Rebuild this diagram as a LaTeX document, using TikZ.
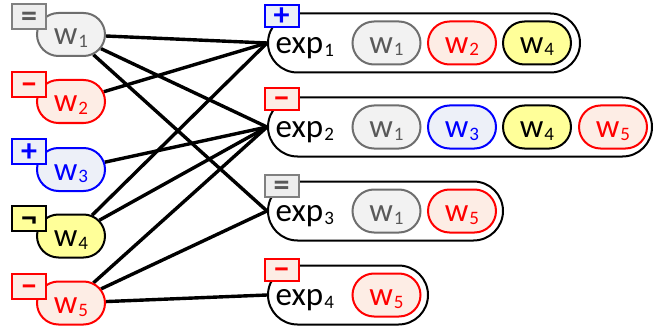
\documentclass[tikz,border=0pt]{standalone}
\usepackage{fontspec}
\setmainfont{Carlito}
\usetikzlibrary{shapes.misc,backgrounds}
\definecolor{gbd}{HTML}{6E6E6E}
\definecolor{gfill}{HTML}{F2F2F2}
\definecolor{gtext}{HTML}{595959}
\definecolor{gboxfill}{HTML}{EEEEEE}
\definecolor{gboxbd}{HTML}{808080}
\definecolor{rbd}{HTML}{FF0000}
\definecolor{rfill}{HTML}{FDEDE5}
\definecolor{bbd}{HTML}{0000FF}
\definecolor{bfill}{HTML}{EDF0F8}
\definecolor{yfill}{HTML}{FFFF99}
\newcommand{\mysub}[1]{\kern1pt\raisebox{-2.5pt}{\fontsize{19}{19}\selectfont #1}}
\begin{document}
\begin{tikzpicture}[x=1pt,y=-1pt,
  wnode/.style={rounded rectangle, line width=2pt, minimum width=68pt, minimum height=43pt,
    inner sep=0pt, text height=23pt, text depth=2pt, font=\fontsize{33}{33}\selectfont},
  wg/.style={wnode, draw=gbd, fill=gfill, text=gtext},
  wr/.style={wnode, draw=rbd, fill=rfill, text=rbd},
  wb/.style={wnode, draw=bbd, fill=bfill, text=bbd},
  wy/.style={wnode, draw=black, fill=yfill, text=black},
  signbox/.style={rectangle, line width=2pt, minimum width=34pt, minimum height=25pt,
    inner sep=0pt, text height=20pt, text depth=0pt, font=\bfseries\fontsize{32}{32}\selectfont},
  esign/.style={minimum height=22pt, text height=19pt},
  sg/.style={signbox, draw=gboxbd, fill=gboxfill, text=gtext},
  sr/.style={signbox, draw=rbd, fill=rfill, text=rbd},
  sb/.style={signbox, draw=bbd, fill=bfill, text=bbd},
  sy/.style={signbox, draw=black, fill=yfill, text=black},
  egroup/.style={rounded rectangle, draw=black, line width=2pt, minimum height=59pt, inner sep=0pt},
  elabel/.style={anchor=base west, inner sep=0pt, font=\fontsize{33}{33}\selectfont},
  edge/.style={line width=3.4pt, black}
]
\useasboundingbox (0,0) rectangle (670,329);

% expression groups
\node[egroup, minimum width=312pt] (e1) at (424,43) {};
\node[egroup, minimum width=384pt] (e2) at (460,127) {};
\node[egroup, minimum width=235pt] (e3) at (385.5,211) {};
\node[egroup, minimum width=160pt] (e4) at (348,295) {};

\node[elabel] (l1) at (275.5,53.8) {exp\mysub{1}};
\node[elabel] (l2) at (275.5,137.8) {exp\mysub{2}};
\node[elabel] (l3) at (275.5,221.8) {exp\mysub{3}};
\node[elabel] (l4) at (275.5,305.8) {exp\mysub{4}};

% pills
\node[wg] (p11) at (386.5,43) {w\mysub{1}};
\node[wr] (p12) at (462,43) {w\mysub{2}};
\node[wy] (p14) at (537,43) {w\mysub{4}};

\node[wg] (p21) at (386.5,127) {w\mysub{1}};
\node[wb] (p23) at (462,127) {w\mysub{3}};
\node[wy] (p24) at (537,127) {w\mysub{4}};
\node[wr] (p25) at (613,127) {w\mysub{5}};

\node[wg] (p31) at (386.5,211) {w\mysub{1}};
\node[wr] (p35) at (462,211) {w\mysub{5}};

\node[wr] (p45) at (386.5,295) {w\mysub{5}};

% expression sign boxes
\node[sb, esign] (s1) at (281.5,16.5) {+};
\node[sr, esign] (s2) at (281.5,99) {\char"2212};
\node[sg, esign] (s3) at (281.5,185.5) {=};
\node[sr, esign] (s4) at (281.5,269.5) {\char"2212};

% left word nodes
\node[wg] (w1) at (71,34.5) {w\mysub{1}};
\node[wr] (w2) at (71,101.5) {w\mysub{2}};
\node[wb] (w3) at (71,169.5) {w\mysub{3}};
\node[wy] (w4) at (71,236) {w\mysub{4}};
\node[wr] (w5) at (71,303) {w\mysub{5}};

\node[sg] (t1) at (29,17) {=};
\node[sr] (t2) at (29,84.5) {\char"2212};
\node[sb] (t3) at (29,151.5) {+};
\node[sy] (t4) at (29,218.5) {\char"00AC};
\node[sr] (t5) at (29,286) {\char"2212};

\begin{scope}[on background layer]
\draw[edge] (w1) -- (e1.west);
\draw[edge] (w1) -- (e2.west);
\draw[edge] (w1) -- (e3.west);
\draw[edge] (w2) -- (e1.west);
\draw[edge] (w3) -- (e2.west);
\draw[edge] (w4) -- (e1.west);
\draw[edge] (w4) -- (e2.west);
\draw[edge] (w5) -- (e2.west);
\draw[edge] (w5) -- (e3.west);
\draw[edge] (w5) -- (e4.west);
\end{scope}
\end{tikzpicture}
\end{document}
